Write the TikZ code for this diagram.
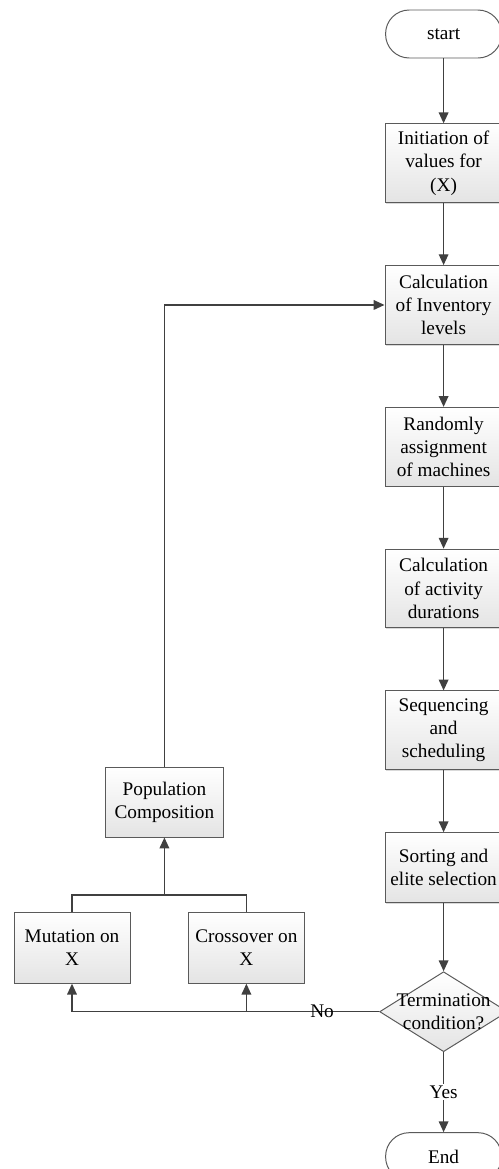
\documentclass[tikz,border=0pt]{standalone}
\usepackage{fontspec}
\setmainfont{Liberation Serif}
\usepackage{tikz}
\usepackage{xcolor}
\usetikzlibrary{arrows.meta,positioning,shapes.geometric,shadows}
\definecolor{linegray}{HTML}{404040}
\definecolor{edgegray}{HTML}{5A5A5A}
\definecolor{shadegray}{HTML}{E4E4E4}
\tikzset{
  flow/.style={
    rectangle,
    draw=edgegray,
    line width=0.7pt,
    top color=white,
    bottom color=shadegray,
    drop shadow={shadow xshift=0.8pt, shadow yshift=-0.8pt, opacity=0.3, fill=gray},
    align=center,
    inner sep=2pt,
    minimum height=1.97cm,
    minimum width=2.93cm,
    font=\fontsize{13.7}{16.5}\selectfont
  },
  terminal/.style={
    rectangle,
    rounded corners=0.59cm,
    draw=edgegray,
    line width=0.7pt,
    fill=white,
    align=center,
    minimum height=1.2cm,
    minimum width=2.9cm,
    font=\fontsize{13.7}{16.5}\selectfont
  },
  decision/.style={
    diamond,
    draw=edgegray,
    line width=0.7pt,
    top color=white,
    bottom color=shadegray,
    inner sep=0pt,
    minimum width=3.2cm,
    minimum height=2cm
  },
  tag/.style={font=\fontsize{13.7}{16.5}\selectfont, align=center, inner sep=1pt},
  line/.style={-{Triangle[length=0.27cm, width=0.24cm]}, line width=1pt, draw=linegray},
  wire/.style={line width=1pt, draw=linegray}
}
\begin{document}
\begin{tikzpicture}[node distance=1.55cm]
  \clip (0,0) rectangle (12.475,-29.225);

  \node[terminal] (start) at (11.09,-0.85) {start};
  \node[flow, below=1.62cm of start] (init) {Initiation of\\values for\\(X)};
  \node[flow, below=of init] (calc) {Calculation\\of Inventory\\levels};
  \node[flow, below=of calc] (assign) {Randomly\\assignment\\of machines};
  \node[flow, below=of assign] (dur) {Calculation\\of activity\\durations};
  \node[flow, below=of dur] (seq) {Sequencing\\and\\scheduling};
  \node[flow, below=of seq, minimum height=1.75cm] (sort) {Sorting and\\elite selection};
  \node[decision, below=1.7cm of sort] (cond) {};
  \node[tag] (condtext) at (cond) {Termination\\condition?};
  \node[terminal, below=2cm of cond] (end) {End};

  \node[flow, minimum height=1.75cm] (pop) at (4.11,-20.05) {Population\\Composition};
  \node[flow, minimum height=1.78cm, minimum width=2.9cm] (mut) at (1.8,-23.69) {Mutation on\\X};
  \node[flow, minimum height=1.78cm, minimum width=2.88cm] (cross) at (6.16,-23.69) {Crossover on\\X};

  \coordinate (merge) at (pop.south |- 0,-22.375);
  \coordinate (nojoin) at (cross.south |- cond.west);

  \draw[line] (start) -- (init);
  \draw[line] (init) -- (calc);
  \draw[line] (calc) -- (assign);
  \draw[line] (assign) -- (dur);
  \draw[line] (dur) -- (seq);
  \draw[line] (seq) -- (sort);
  \draw[line] (sort) -- (cond);
  \draw[line] (cond) -- node[tag, fill=white] (yes) {Yes} (end);

  \draw[line] (cond.west) -- node[tag, pos=0.43] (no) {No} (nojoin) -| (mut.south);
  \draw[line] (nojoin) -- (cross.south);
  \draw[wire] (mut.north) |- (merge) -| (cross.north);
  \draw[line] (merge) -- (pop.south);
  \draw[line] (pop.north) |- (calc.west);
\end{tikzpicture}
\end{document}
